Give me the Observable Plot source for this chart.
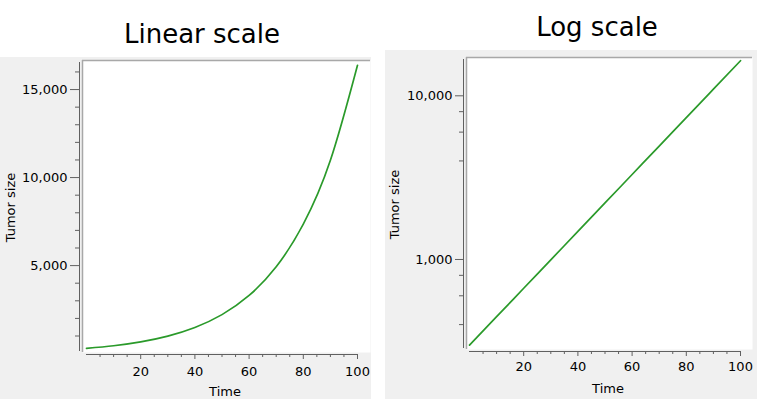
<!DOCTYPE html>
<html><head><meta charset="utf-8">
<script src="https://cdn.jsdelivr.net/npm/d3@7"></script>
<script src="https://cdn.jsdelivr.net/npm/@observablehq/plot@0.6"></script>
<style>
body{margin:0;background:#fff;}
#wrap{position:relative;width:757px;height:399px;overflow:hidden;font-family:"DejaVu Sans",sans-serif;}
.panel{position:absolute;background:#f0f0f0;}
.panel svg{display:block;overflow:visible;}
.panel svg text, .panel svg g[aria-label] {font-size:13px !important;font-family:"DejaVu Sans",sans-serif !important;}
.title{position:absolute;font-size:26px;line-height:26px;color:#000;white-space:nowrap;transform:translateX(-50%);}
</style></head>
<body><div id="wrap">
<div class="title" id="t1" style="left:202px;top:21px"></div>
<div class="title" id="t2" style="left:597px;top:14px"></div>
<div class="panel" id="p1" style="left:0;top:57px;width:371px;height:342px"></div>
<div class="panel" id="p2" style="left:385px;top:50px;width:372px;height:349px"></div>
</div>
<script>
// ---- data ----
const time = [0, 10, 20, 30, 40, 50, 60, 70, 80, 90, 100];
const tumorSize = [300, 447, 667, 995, 1485, 2215, 3305, 4930, 7360, 10980, 16380];
const titles = ["Linear scale", "Log scale"];
const xLabel = "Time";
const yLabel = "Tumor size";
const timeMajorTicks = [20, 40, 60, 80, 100];
const timeMinorTicks = [5, 10, 15, 25, 30, 35, 45, 50, 55, 65, 70, 75, 85, 90, 95];
const linearMajorTicks = [5000, 10000, 15000];
const linearMinorTicks = [1000, 2000, 3000, 4000, 6000, 7000, 8000, 9000, 11000, 12000, 13000, 14000, 16000];
const logMajorTicks = [1000, 10000];
const logMinorTicks = [400, 600, 800, 4000, 6000, 8000];

const data = time.map((t, i) => ({time: t, size: tumorSize[i]}));
document.getElementById("t1").textContent = titles[0];
document.getElementById("t2").textContent = titles[1];

const GREEN = "#2a9a2a";
const AXIS = "#606060";
const BORDER = "#a8a8a8";
const fmt = d3.format(",");
const FS = 13;

function panel(o) {
  const yDom = o.y.domain;
  return Plot.plot({
    width: o.width, height: o.height,
    marginTop: o.mt, marginRight: o.mr, marginBottom: o.mb, marginLeft: o.ml,
    style: {background: "transparent", fontFamily: "DejaVu Sans, sans-serif", fontSize: "13px", color: "#000"},
    x: {domain: [0, 100], insetLeft: o.xil, insetRight: o.xir},
    y: o.y,
    marks: [
      Plot.frame({fill: "white", stroke: null, insetLeft: 3, insetBottom: 2}),
      Plot.ruleY([yDom[1]], {insetLeft: 3, stroke: BORDER, strokeWidth: 1.5}),
      Plot.ruleX([0], {dx: -(o.xil - 3), insetBottom: 2, stroke: BORDER, strokeWidth: 1.5}),
      Plot.ruleX([0], {dx: -o.xil, insetTop: 2, insetBottom: 3, stroke: AXIS}),
      Plot.ruleY([yDom[0]], {x1: 0, x2: 100, stroke: AXIS}),
      Plot.axisY({ticks: o.major, tickSize: o.majorSize, tickPadding: 3, tickFormat: fmt, stroke: AXIS,
        fontSize: FS, fill: "#000",
        label: yLabel, labelArrow: "none", labelAnchor: "center", labelOffset: 74}),
      Plot.axisY({ticks: o.minor, tickSize: 4, tickFormat: () => "", stroke: AXIS, label: null}),
      Plot.axisX({ticks: timeMajorTicks, tickSize: 5, tickPadding: o.xpad, tickFormat: d => String(d), stroke: AXIS,
        fontSize: FS, fill: "#000",
        label: xLabel, labelArrow: "none", labelAnchor: "center", labelOffset: 41}),
      Plot.axisX({ticks: timeMinorTicks, tickSize: 3, tickFormat: () => "", stroke: AXIS, label: null}),
      Plot.line(data, {x: "time", y: "size", stroke: GREEN, strokeWidth: 1.7, curve: "natural"})
    ]
  });
}

document.getElementById("p1").append(panel({
  width: 371, height: 342, mt: 3, mr: 1, mb: 45, ml: 79, xil: 7, xir: 13, xpad: 7,
  y: {type: "linear", domain: [-50, 16650]},
  major: linearMajorTicks, minor: linearMinorTicks, majorSize: 9
}));

document.getElementById("p2").append(panel({
  width: 372, height: 349, mt: 7, mr: 5, mb: 48, ml: 78, xil: 6, xir: 12, xpad: 5,
  y: {type: "log", domain: [274, 17140]},
  major: logMajorTicks, minor: logMinorTicks, majorSize: 8
}));
</script>
</body></html>
